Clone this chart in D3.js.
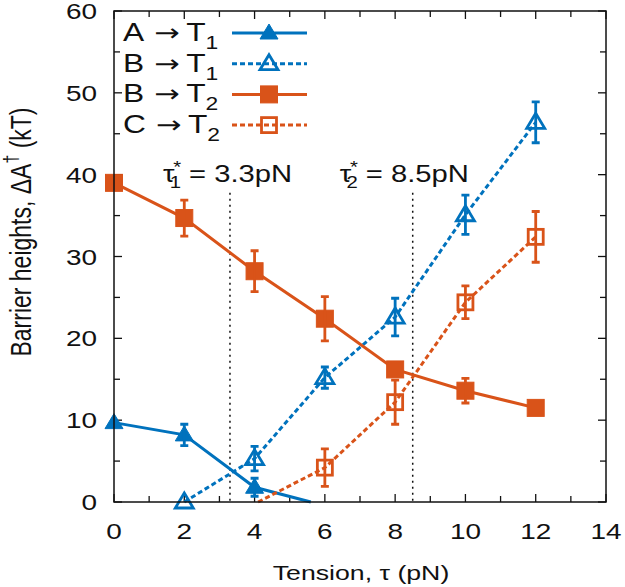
<!DOCTYPE html>
<head>
  <meta charset="utf-8">
  <script src="https://d3js.org/d3.v7.min.js"></script>
  <style>
    body { margin:0; background:#fff; }
    text { font-family: "Liberation Sans", Arial, sans-serif; fill:#111; }
  </style>
</head>
<body>
<script>
  var width = 625, height = 587;
  var margin = {left: 114, right: 19, top: 11, bottom: 85};
  var stretch = 1.27; // the source figure's text is drawn wide

  // data (tension in pN, barrier in kT)
  // err == null marks a line end point with no marker
  var tensionA = [0, 2, 4, 5.6];
  var barrierA = [9.7, 8.2, 1.8, 0];
  var errA     = [0, 1.3, 1.1, null];

  var tensionB1 = [2, 4, 6, 8, 10, 12];
  var barrierB1 = [0, 5.3, 15.2, 22.6, 35.1, 46.4];
  var errB1     = [0, 1.5, 1.3, 2.3, 2.4, 2.5];

  var tensionB2 = [0, 2, 4, 6, 8, 10, 12];
  var barrierB2 = [39, 34.7, 28.2, 22.4, 16.2, 13.6, 11.5];
  var errB2     = [0.4, 2.2, 2.5, 2.7, 0.4, 1.5, 0.3];

  var tensionC = [4.1, 6, 8, 10, 12];
  var barrierC = [0, 4.2, 12.2, 24.4, 32.4];
  var errC     = [null, 2.3, 2.7, 2.0, 3.1];

  var criticalTension = [3.3, 8.5];
  var criticalLabels = ["1", "2"];
  var xTicks = [0, 2, 4, 6, 8, 10, 12, 14];
  var yTicks = [0, 10, 20, 30, 40, 50, 60];

  var blue = "#0072bd", orange = "#d95319";

  function zip(xs, ys, es) {
    return xs.map(function(x, i) { return {x: x, y: ys[i], e: es[i]}; });
  }

  var series = [
    {from: "A", to: "1", pts: zip(tensionA, barrierA, errA), color: blue, dashed: false, shape: "tri", filled: true},
    {from: "B", to: "1", pts: zip(tensionB1, barrierB1, errB1), color: blue, dashed: true, shape: "tri", filled: false},
    {from: "B", to: "2", pts: zip(tensionB2, barrierB2, errB2), color: orange, dashed: false, shape: "sq", filled: true},
    {from: "C", to: "2", pts: zip(tensionC, barrierC, errC), color: orange, dashed: true, shape: "sq", filled: false}
  ];

  var x = d3.scaleLinear().domain([0, 14]).range([margin.left, width - margin.right]);
  var y = d3.scaleLinear().domain([0, 60]).range([height - margin.bottom, margin.top]);

  var svg = d3.select("body").append("svg")
    .attr("width", width).attr("height", height);

  function txt(px, py, size, anchor) {
    return svg.append("text")
      .attr("transform", "translate(" + px + "," + py + ") scale(" + stretch + ",1)")
      .attr("font-size", size).attr("text-anchor", anchor || "start");
  }

  // ticks on all four sides, pointing in
  var x0 = x.range()[0], x1 = x.range()[1], y0 = y.range()[0], y1 = y.range()[1];
  var ticks = svg.append("g").attr("stroke", "#111").attr("stroke-width", 1.3);
  d3.range(0, 15, 1).forEach(function(v) {
    var len = v % 2 == 0 ? 8 : 6;
    ticks.append("line").attr("x1", x(v)).attr("x2", x(v)).attr("y1", y0).attr("y2", y0 - len);
    ticks.append("line").attr("x1", x(v)).attr("x2", x(v)).attr("y1", y1).attr("y2", y1 + len);
  });
  d3.range(0, 61, 5).forEach(function(v) {
    var len = v % 10 == 0 ? 8 : 6;
    ticks.append("line").attr("y1", y(v)).attr("y2", y(v)).attr("x1", x0).attr("x2", x0 + len);
    ticks.append("line").attr("y1", y(v)).attr("y2", y(v)).attr("x1", x1).attr("x2", x1 - len);
  });

  xTicks.forEach(function(d) { txt(x(d), y0 + 37, 22, "middle").text(d); });
  yTicks.forEach(function(d) { txt(x0 - 17, y(d) + 8, 22, "end").text(d); });

  txt(361, 580, 21, "middle").text("Tension, τ (pN)");
  var yt = svg.append("text")
    .attr("transform", "translate(31,232) rotate(-90) scale(1," + stretch + ")")
    .attr("text-anchor", "middle").attr("font-size", 23);
  yt.append("tspan").text("Barrier heights, ΔA");
  yt.append("tspan").attr("dy", -10).attr("font-size", 16).text("†");
  yt.append("tspan").attr("dy", 10).text(" (kT)");

  // critical tension markers
  var labelShift = [-67, -73];
  criticalTension.forEach(function(t, i) {
    svg.append("line").attr("x1", x(t)).attr("x2", x(t)).attr("y1", y(37.8)).attr("y2", y0)
      .attr("stroke", "#111").attr("stroke-width", 1.5).attr("stroke-dasharray", "2,4");
    var lab = txt(x(t) + labelShift[i], 182, 23, "start");
    lab.append("tspan").text("τ");
    lab.append("tspan").attr("dx", -1).attr("dy", -9).attr("font-size", 16).text("*");
    lab.append("tspan").attr("dx", -9).attr("dy", 15).attr("font-size", 16).text(criticalLabels[i]);
    lab.append("tspan").attr("dy", -6).text(" = " + t + "pN");
  });

  var plot = svg.append("g");
  var line = d3.line().x(function(d) { return x(d.x); }).y(function(d) { return y(d.y); });

  function marker(g, s, cx, cy) {
    var fill = s.filled ? s.color : "none";
    if (s.shape == "tri") {
      g.append("path").attr("d", "M" + cx + "," + (cy - 9) + "L" + (cx + 9) + "," + (cy + 6) + "L" + (cx - 9) + "," + (cy + 6) + "Z")
        .attr("fill", fill).attr("stroke", s.color).attr("stroke-width", s.filled ? 1 : 2.8);
    } else {
      var h = s.filled ? 8.5 : 7.5;
      g.append("rect").attr("x", cx - h).attr("y", cy - h).attr("width", 2 * h).attr("height", 2 * h)
        .attr("fill", fill).attr("stroke", s.color).attr("stroke-width", s.filled ? 1 : 2.8);
    }
  }

  series.forEach(function(s) {
    var g = plot.append("g");
    g.append("path").datum(s.pts).attr("d", line).attr("fill", "none")
      .attr("stroke", s.color).attr("stroke-width", 3)
      .attr("stroke-dasharray", s.dashed ? "5,3" : null);
    s.pts.filter(function(d) { return d.e != null; }).forEach(function(d) {
      marker(g, s, x(d.x), y(d.y));
      if (d.e > 0.8) {
        g.append("path")
          .attr("d", "M" + (x(d.x) - 4) + "," + y(d.y + d.e) + "h8M" + x(d.x) + "," + y(d.y + d.e) +
                "V" + y(d.y - d.e) + "M" + (x(d.x) - 4) + "," + y(d.y - d.e) + "h8")
          .attr("stroke", s.color).attr("stroke-width", 2.8).attr("fill", "none");
      }
    });
  });

  // legend
  series.forEach(function(s, i) {
    var cy = 33 + i * 30.7;
    var t = txt(123, cy + 8, 25, "start");
    t.append("tspan").text(s.from);
    t.append("tspan").attr("dx", 8).attr("font-family", "DejaVu Sans").attr("font-size", 24).text("→");
    t.append("tspan").attr("dx", 5).text("T");
    t.append("tspan").attr("dy", 8).attr("font-size", 18).text(s.to);
    var lg = svg.append("g");
    lg.append("line").attr("x1", 232).attr("x2", 307).attr("y1", cy).attr("y2", cy)
      .attr("stroke", s.color).attr("stroke-width", 3)
      .attr("stroke-dasharray", s.dashed ? "5,3" : null);
    marker(lg, s, 269, cy);
  });

  svg.append("rect").attr("x", x0).attr("y", y1).attr("width", x1 - x0).attr("height", y0 - y1)
    .attr("fill", "none").attr("stroke", "#111").attr("stroke-width", 1.5);
</script>
</body>
